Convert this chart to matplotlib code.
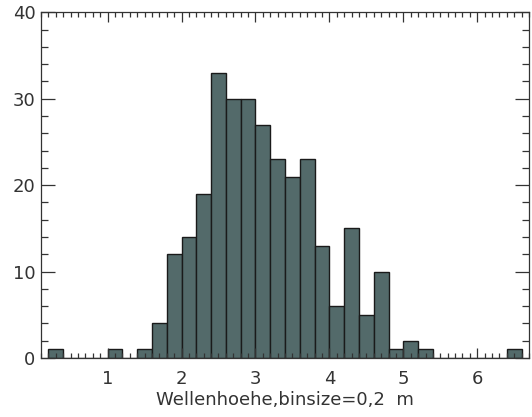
import numpy as np
import matplotlib
matplotlib.use("Agg")
import matplotlib.pyplot as plt
from matplotlib.ticker import MultipleLocator

# histogram bins (left edges, width 0.2 m) and counts
bin_left = [0.2, 0.4, 0.6, 0.8, 1.0, 1.2, 1.4, 1.6, 1.8, 2.0, 2.2, 2.4, 2.6, 2.8,
            3.0, 3.2, 3.4, 3.6, 3.8, 4.0, 4.2, 4.4, 4.6, 4.8, 5.0, 5.2, 5.4, 5.6,
            5.8, 6.0, 6.2, 6.4]
counts = [1, 0, 0, 0, 1, 0, 1, 4, 12, 14, 19, 33, 30, 30,
          27, 23, 21, 23, 13, 6, 15, 5, 10, 1, 2, 1, 0, 0,
          0, 0, 0, 1]
binsize = 0.2
x_ticks = [1, 2, 3, 4, 5, 6]
y_ticks = [0, 10, 20, 30, 40]

fig = plt.figure(figsize=(5.32, 4.17), dpi=100)
ax = fig.add_axes([0.0771, 0.1415, 0.9173, 0.829])

ax.bar(bin_left, counts, width=binsize, align='edge',
       color='#536a6a', edgecolor='#1a1a1a', linewidth=1.0)

ax.set_xlim(0.1, 6.7)
ax.set_ylim(0, 40)
ax.set_xticks(x_ticks)
ax.set_yticks(y_ticks)
ax.xaxis.set_minor_locator(MultipleLocator(0.1))
ax.yaxis.set_minor_locator(MultipleLocator(2))

ax.tick_params(axis='both', which='both', direction='in', top=True, right=True,
               colors='#333333', labelcolor='#333333', labelsize=13, width=0.9)
ax.tick_params(axis='x', which='major', length=7, pad=9)
ax.tick_params(axis='x', which='minor', length=3.5)
ax.tick_params(axis='y', which='major', length=10, pad=4)
ax.tick_params(axis='y', which='minor', length=5)
for s in ax.spines.values():
    s.set_color('#333333')
    s.set_linewidth(0.9)

ax.set_xlabel('Wellenhoehe,binsize=0,2  m', fontsize=13, color='#333333', labelpad=2)

fig.savefig('out.png', dpi=100)
